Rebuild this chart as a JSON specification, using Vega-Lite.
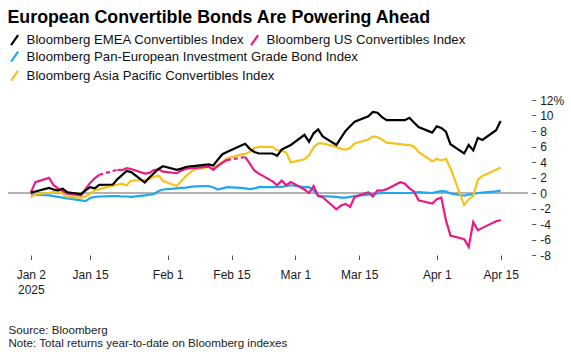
{
  "$schema": "https://vega.github.io/schema/vega-lite/v6.json",
  "autosize": {"type": "none"},
  "width": 520,
  "height": 155,
  "padding": {"left": 8, "top": 100, "right": 43, "bottom": 99},
  "background": "white",
  "title": {
    "text": "European Convertible Bonds Are Powering Ahead",
    "anchor": "start",
    "font": "Liberation Sans",
    "fontSize": 17.8,
    "fontWeight": "bold",
    "color": "#000000",
    "baseline": "alphabetic",
    "offset": 12,
    "dy": 19.5
  },
  "config": {
    "view": {"stroke": null},
    "axis": {"labelOverlap": false, "labelBound": false},
    "legend": {
      "orient": "none",
      "title": null,
      "padding": 0,
      "symbolType": "M-0.7,1L0.7,-1",
      "symbolSize": 100,
      "symbolStrokeWidth": 2.2,
      "symbolFillColor": "transparent",
      "labelFont": "Liberation Sans",
      "labelFontSize": 13.2,
      "labelColor": "#111111",
      "labelOffset": 5.4,
      "labelLimit": 500,
      "columnPadding": 1,
      "rowPadding": 0
    }
  },
  "datasets": {
    "emea": [
      {"date": "2025-01-02", "value": 0.05}, {"date": "2025-01-03", "value": 0.2}, {"date": "2025-01-06", "value": 0.65},
      {"date": "2025-01-07", "value": 0.45}, {"date": "2025-01-08", "value": 0.35}, {"date": "2025-01-09", "value": 0.55},
      {"date": "2025-01-10", "value": 0.1}, {"date": "2025-01-13", "value": -0.15}, {"date": "2025-01-14", "value": 0.35},
      {"date": "2025-01-15", "value": 0.75}, {"date": "2025-01-16", "value": 0.6}, {"date": "2025-01-17", "value": 1.05},
      {"date": "2025-01-20", "value": 1.1}, {"date": "2025-01-21", "value": 1.8}, {"date": "2025-01-22", "value": 2.3},
      {"date": "2025-01-23", "value": 2.85}, {"date": "2025-01-24", "value": 2.7}, {"date": "2025-01-27", "value": 1.35},
      {"date": "2025-01-28", "value": 2.0}, {"date": "2025-01-29", "value": 2.55}, {"date": "2025-01-30", "value": 3.1},
      {"date": "2025-01-31", "value": 3.45}, {"date": "2025-02-03", "value": 3.0}, {"date": "2025-02-04", "value": 3.15},
      {"date": "2025-02-05", "value": 3.35}, {"date": "2025-02-06", "value": 3.45}, {"date": "2025-02-07", "value": 3.5},
      {"date": "2025-02-10", "value": 3.7}, {"date": "2025-02-11", "value": 3.55}, {"date": "2025-02-12", "value": 4.3},
      {"date": "2025-02-13", "value": 5.0}, {"date": "2025-02-14", "value": 5.3}, {"date": "2025-02-17", "value": 6.1},
      {"date": "2025-02-18", "value": 6.35}, {"date": "2025-02-19", "value": 5.7}, {"date": "2025-02-20", "value": 5.3},
      {"date": "2025-02-21", "value": 5.1}, {"date": "2025-02-24", "value": 5.1}, {"date": "2025-02-25", "value": 4.8},
      {"date": "2025-02-26", "value": 5.6}, {"date": "2025-02-27", "value": 5.9}, {"date": "2025-02-28", "value": 6.2},
      {"date": "2025-03-03", "value": 7.5}, {"date": "2025-03-04", "value": 6.6}, {"date": "2025-03-05", "value": 7.7},
      {"date": "2025-03-06", "value": 8.2}, {"date": "2025-03-07", "value": 7.3}, {"date": "2025-03-10", "value": 6.2},
      {"date": "2025-03-11", "value": 7.1}, {"date": "2025-03-12", "value": 8.0}, {"date": "2025-03-13", "value": 8.6},
      {"date": "2025-03-14", "value": 9.2}, {"date": "2025-03-17", "value": 9.9}, {"date": "2025-03-18", "value": 10.45},
      {"date": "2025-03-19", "value": 10.35}, {"date": "2025-03-20", "value": 9.8}, {"date": "2025-03-21", "value": 9.4},
      {"date": "2025-03-24", "value": 9.4}, {"date": "2025-03-25", "value": 9.4}, {"date": "2025-03-26", "value": 9.7},
      {"date": "2025-03-27", "value": 9.1}, {"date": "2025-03-28", "value": 8.5}, {"date": "2025-03-31", "value": 7.8},
      {"date": "2025-04-01", "value": 8.6}, {"date": "2025-04-02", "value": 8.4}, {"date": "2025-04-03", "value": 7.9},
      {"date": "2025-04-04", "value": 6.3}, {"date": "2025-04-07", "value": 5.1}, {"date": "2025-04-08", "value": 6.2},
      {"date": "2025-04-09", "value": 5.5}, {"date": "2025-04-10", "value": 7.1}, {"date": "2025-04-11", "value": 6.85},
      {"date": "2025-04-14", "value": 8.1}, {"date": "2025-04-15", "value": 9.3}
    ],
    "us": [
      {"date": "2025-01-02", "value": 0.05}, {"date": "2025-01-03", "value": 1.4}, {"date": "2025-01-06", "value": 1.95},
      {"date": "2025-01-07", "value": 1.0}, {"date": "2025-01-08", "value": 0.6}, {"date": "2025-01-10", "value": -0.1},
      {"date": "2025-01-13", "value": -0.3}, {"date": "2025-01-14", "value": 0.5}, {"date": "2025-01-15", "value": 1.3},
      {"date": "2025-01-16", "value": 1.9}, {"date": "2025-01-17", "value": 2.35}, {"date": "2025-01-20", "value": null},
      {"date": "2025-01-21", "value": 3.0}, {"date": "2025-01-22", "value": 2.95}, {"date": "2025-01-23", "value": 3.2},
      {"date": "2025-01-24", "value": 3.1}, {"date": "2025-01-27", "value": 2.5}, {"date": "2025-01-28", "value": 2.6},
      {"date": "2025-01-29", "value": 2.95}, {"date": "2025-01-30", "value": 3.05}, {"date": "2025-01-31", "value": 2.75},
      {"date": "2025-02-03", "value": 2.55}, {"date": "2025-02-04", "value": 2.9}, {"date": "2025-02-05", "value": 3.1},
      {"date": "2025-02-06", "value": 3.2}, {"date": "2025-02-07", "value": 3.25}, {"date": "2025-02-10", "value": 3.4},
      {"date": "2025-02-11", "value": 3.0}, {"date": "2025-02-12", "value": 3.5}, {"date": "2025-02-13", "value": 3.9},
      {"date": "2025-02-14", "value": 4.25}, {"date": "2025-02-17", "value": null}, {"date": "2025-02-18", "value": 4.65},
      {"date": "2025-02-19", "value": 3.8}, {"date": "2025-02-20", "value": 2.9}, {"date": "2025-02-21", "value": 2.5},
      {"date": "2025-02-24", "value": 1.5}, {"date": "2025-02-25", "value": 1.0}, {"date": "2025-02-26", "value": 1.6},
      {"date": "2025-02-27", "value": 1.0}, {"date": "2025-02-28", "value": 1.4}, {"date": "2025-03-03", "value": 0.45},
      {"date": "2025-03-04", "value": 0.0}, {"date": "2025-03-05", "value": 0.9}, {"date": "2025-03-06", "value": -0.4},
      {"date": "2025-03-07", "value": -0.55}, {"date": "2025-03-10", "value": -2.1}, {"date": "2025-03-11", "value": -1.6},
      {"date": "2025-03-12", "value": -1.4}, {"date": "2025-03-13", "value": -1.8}, {"date": "2025-03-14", "value": -0.5},
      {"date": "2025-03-17", "value": 0.1}, {"date": "2025-03-18", "value": -0.45}, {"date": "2025-03-19", "value": 0.35},
      {"date": "2025-03-20", "value": 0.3}, {"date": "2025-03-21", "value": 0.5}, {"date": "2025-03-24", "value": 1.4},
      {"date": "2025-03-25", "value": 1.2}, {"date": "2025-03-26", "value": 0.6}, {"date": "2025-03-27", "value": 0.2},
      {"date": "2025-03-28", "value": -0.95}, {"date": "2025-03-31", "value": -1.35}, {"date": "2025-04-01", "value": -0.8},
      {"date": "2025-04-02", "value": -0.6}, {"date": "2025-04-03", "value": -3.5}, {"date": "2025-04-04", "value": -5.5},
      {"date": "2025-04-07", "value": -5.95}, {"date": "2025-04-08", "value": -6.95}, {"date": "2025-04-09", "value": -3.75},
      {"date": "2025-04-10", "value": -4.8}, {"date": "2025-04-11", "value": -4.5}, {"date": "2025-04-14", "value": -3.65},
      {"date": "2025-04-15", "value": -3.5}
    ],
    "usHolidayGaps": [
      {"date": "2025-01-17", "value": 2.35, "gap": "Martin Luther King Jr. Day"},
      {"date": "2025-01-21", "value": 3.0, "gap": "Martin Luther King Jr. Day"},
      {"date": "2025-02-14", "value": 4.25, "gap": "Presidents Day"},
      {"date": "2025-02-18", "value": 4.65, "gap": "Presidents Day"}
    ],
    "panEuro": [
      {"date": "2025-01-02", "value": -0.15}, {"date": "2025-01-03", "value": -0.2}, {"date": "2025-01-06", "value": -0.3},
      {"date": "2025-01-07", "value": -0.4}, {"date": "2025-01-08", "value": -0.5}, {"date": "2025-01-09", "value": -0.6},
      {"date": "2025-01-10", "value": -0.7}, {"date": "2025-01-13", "value": -0.95}, {"date": "2025-01-14", "value": -1.05},
      {"date": "2025-01-15", "value": -0.65}, {"date": "2025-01-16", "value": -0.5}, {"date": "2025-01-17", "value": -0.45},
      {"date": "2025-01-20", "value": -0.4}, {"date": "2025-01-21", "value": -0.4}, {"date": "2025-01-22", "value": -0.45},
      {"date": "2025-01-23", "value": -0.45}, {"date": "2025-01-24", "value": -0.5}, {"date": "2025-01-27", "value": -0.3},
      {"date": "2025-01-28", "value": -0.2}, {"date": "2025-01-29", "value": -0.15}, {"date": "2025-01-30", "value": 0.25},
      {"date": "2025-01-31", "value": 0.45}, {"date": "2025-02-03", "value": 0.6}, {"date": "2025-02-04", "value": 0.65},
      {"date": "2025-02-05", "value": 0.7}, {"date": "2025-02-06", "value": 0.8}, {"date": "2025-02-07", "value": 0.85},
      {"date": "2025-02-10", "value": 0.9}, {"date": "2025-02-11", "value": 0.7}, {"date": "2025-02-12", "value": 0.45},
      {"date": "2025-02-13", "value": 0.6}, {"date": "2025-02-14", "value": 0.75}, {"date": "2025-02-17", "value": 0.65},
      {"date": "2025-02-18", "value": 0.6}, {"date": "2025-02-19", "value": 0.5}, {"date": "2025-02-20", "value": 0.6},
      {"date": "2025-02-21", "value": 0.75}, {"date": "2025-02-24", "value": 0.75}, {"date": "2025-02-25", "value": 0.8},
      {"date": "2025-02-26", "value": 0.8}, {"date": "2025-02-27", "value": 0.9}, {"date": "2025-02-28", "value": 1.0},
      {"date": "2025-03-03", "value": 0.75}, {"date": "2025-03-04", "value": 0.75}, {"date": "2025-03-05", "value": 0.3},
      {"date": "2025-03-06", "value": -0.35}, {"date": "2025-03-07", "value": -0.4}, {"date": "2025-03-10", "value": -0.5},
      {"date": "2025-03-11", "value": -0.6}, {"date": "2025-03-12", "value": -0.6}, {"date": "2025-03-13", "value": -0.5},
      {"date": "2025-03-14", "value": -0.4}, {"date": "2025-03-17", "value": -0.2}, {"date": "2025-03-18", "value": -0.1},
      {"date": "2025-03-19", "value": -0.05}, {"date": "2025-03-20", "value": 0.0}, {"date": "2025-03-21", "value": 0.0},
      {"date": "2025-03-24", "value": 0.0}, {"date": "2025-03-25", "value": 0.0}, {"date": "2025-03-26", "value": 0.0},
      {"date": "2025-03-27", "value": 0.05}, {"date": "2025-03-28", "value": 0.1}, {"date": "2025-03-31", "value": 0.0},
      {"date": "2025-04-01", "value": 0.15}, {"date": "2025-04-02", "value": 0.25}, {"date": "2025-04-03", "value": 0.2},
      {"date": "2025-04-04", "value": -0.05}, {"date": "2025-04-07", "value": -0.35}, {"date": "2025-04-08", "value": -0.2},
      {"date": "2025-04-09", "value": -0.15}, {"date": "2025-04-10", "value": 0.0}, {"date": "2025-04-11", "value": 0.05},
      {"date": "2025-04-14", "value": 0.2}, {"date": "2025-04-15", "value": 0.3}
    ],
    "asiaPac": [
      {"date": "2025-01-02", "value": -0.55}, {"date": "2025-01-03", "value": -0.15}, {"date": "2025-01-06", "value": 0.0},
      {"date": "2025-01-07", "value": 0.15}, {"date": "2025-01-08", "value": 0.2}, {"date": "2025-01-09", "value": -0.1},
      {"date": "2025-01-10", "value": -0.5}, {"date": "2025-01-13", "value": -0.6}, {"date": "2025-01-14", "value": -0.45},
      {"date": "2025-01-15", "value": -0.1}, {"date": "2025-01-16", "value": 0.35}, {"date": "2025-01-17", "value": 0.5},
      {"date": "2025-01-20", "value": 0.95}, {"date": "2025-01-21", "value": 1.1}, {"date": "2025-01-22", "value": 1.2},
      {"date": "2025-01-23", "value": 1.0}, {"date": "2025-01-24", "value": 1.6}, {"date": "2025-01-27", "value": 1.65},
      {"date": "2025-01-28", "value": 1.85}, {"date": "2025-01-29", "value": 2.1}, {"date": "2025-01-30", "value": 2.25},
      {"date": "2025-01-31", "value": 1.55}, {"date": "2025-02-03", "value": 0.9}, {"date": "2025-02-04", "value": 1.55},
      {"date": "2025-02-05", "value": 2.2}, {"date": "2025-02-06", "value": 2.7}, {"date": "2025-02-07", "value": 3.05},
      {"date": "2025-02-10", "value": 3.35}, {"date": "2025-02-11", "value": 3.2}, {"date": "2025-02-12", "value": 3.6},
      {"date": "2025-02-13", "value": 4.0}, {"date": "2025-02-14", "value": 4.45}, {"date": "2025-02-17", "value": 4.95},
      {"date": "2025-02-18", "value": 5.05}, {"date": "2025-02-19", "value": 5.3}, {"date": "2025-02-20", "value": 5.8},
      {"date": "2025-02-21", "value": 5.95}, {"date": "2025-02-24", "value": 5.95}, {"date": "2025-02-25", "value": 5.5},
      {"date": "2025-02-26", "value": 5.5}, {"date": "2025-02-27", "value": 5.2}, {"date": "2025-02-28", "value": 3.95},
      {"date": "2025-03-03", "value": 4.35}, {"date": "2025-03-04", "value": 4.9}, {"date": "2025-03-05", "value": 5.9},
      {"date": "2025-03-06", "value": 6.4}, {"date": "2025-03-07", "value": 6.4}, {"date": "2025-03-10", "value": 5.95},
      {"date": "2025-03-11", "value": 5.7}, {"date": "2025-03-12", "value": 5.6}, {"date": "2025-03-13", "value": 5.8},
      {"date": "2025-03-14", "value": 6.4}, {"date": "2025-03-17", "value": 6.9}, {"date": "2025-03-18", "value": 7.3},
      {"date": "2025-03-19", "value": 7.2}, {"date": "2025-03-20", "value": 6.9}, {"date": "2025-03-21", "value": 6.5},
      {"date": "2025-03-24", "value": 6.3}, {"date": "2025-03-25", "value": 6.2}, {"date": "2025-03-26", "value": 6.2},
      {"date": "2025-03-27", "value": 6.0}, {"date": "2025-03-28", "value": 5.3}, {"date": "2025-03-31", "value": 4.1},
      {"date": "2025-04-01", "value": 4.4}, {"date": "2025-04-02", "value": 4.2}, {"date": "2025-04-03", "value": 4.4},
      {"date": "2025-04-04", "value": 3.2}, {"date": "2025-04-07", "value": -1.55}, {"date": "2025-04-08", "value": -0.8},
      {"date": "2025-04-09", "value": -0.4}, {"date": "2025-04-10", "value": 1.7}, {"date": "2025-04-11", "value": 2.2},
      {"date": "2025-04-14", "value": 3.0}, {"date": "2025-04-15", "value": 3.3}
    ]
  },
  "layer": [
    {
      "data": {"values": [{}]},
      "mark": {"type": "rule", "color": "#666666", "strokeWidth": 1},
      "encoding": {
        "y": {
          "datum": 0,
          "type": "quantitative",
          "scale": {"domain": [-8, 12], "nice": false, "zero": false},
          "axis": {
            "orient": "right",
            "values": [-8, -6, -4, -2, 0, 2, 4, 6, 8, 10, 12],
            "tickCount": 20,
            "labelExpr": "datum.value == 12 ? '12%' : (datum.value < 0 ? '-' + abs(datum.value) : '' + datum.value)",
            "labelOverlap": false,
            "domain": false,
            "grid": false,
            "offset": 3.7,
            "tickSize": 4,
            "tickColor": "#555555",
            "labelPadding": 4,
            "labelFont": "Liberation Sans",
            "labelFontSize": 12,
            "labelColor": "#1a1a1a",
            "title": null
          }
        }
      }
    },
    {
      "layer": [
        {
          "data": {"name": "panEuro"},
          "mark": {"type": "line", "strokeWidth": 2.2},
          "encoding": {
            "x": {
              "field": "date",
              "type": "temporal",
              "scale": {
                "type": "utc",
                "domain": [
                  {"year": 2024, "month": 12, "date": 28, "utc": true},
                  {"year": 2025, "month": 4, "date": 21, "utc": true}
                ]
              },
              "axis": {
                "orient": "bottom",
                "values": [
                  {"year": 2025, "month": 1, "date": 2, "utc": true},
                  {"year": 2025, "month": 1, "date": 15, "utc": true},
                  {"year": 2025, "month": 2, "date": 1, "utc": true},
                  {"year": 2025, "month": 2, "date": 15, "utc": true},
                  {"year": 2025, "month": 3, "date": 1, "utc": true},
                  {"year": 2025, "month": 3, "date": 15, "utc": true},
                  {"year": 2025, "month": 4, "date": 1, "utc": true},
                  {"year": 2025, "month": 4, "date": 15, "utc": true}
                ],
                "tickCount": 20,
                "labelExpr": "utcFormat(datum.value, '%b %-d') == 'Jan 2' ? ['Jan 2', '2025'] : utcFormat(datum.value, '%b %-d')",
                "domain": false,
                "grid": false,
                "ticks": true,
                "tickSize": 4.5,
                "tickColor": "#555555",
                "tickWidth": 1,
                "labelPadding": 10,
                "labelFont": "Liberation Sans",
                "labelFontSize": 12,
                "labelColor": "#1a1a1a",
                "labelLineHeight": 14.5,
                "labelFlush": false,
                "labelOverlap": false,
                "title": ["Source: Bloomberg", "Note: Total returns year-to-date on Bloomberg indexes"],
                "titleAnchor": "start",
                "titleAlign": "left",
                "titleBaseline": "alphabetic",
                "titleX": 0,
                "titleY": 78,
                "titleFont": "Liberation Sans",
                "titleFontSize": 11.6,
                "titleFontWeight": "normal",
                "titleColor": "#222222",
                "titleLineHeight": 13.5
              }
            },
            "y": {"field": "value", "type": "quantitative"},
            "color": {
              "datum": "Bloomberg Pan-European Investment Grade Bond Index",
              "type": "nominal",
              "scale": {
                "domain": ["Bloomberg Pan-European Investment Grade Bond Index", "Bloomberg Asia Pacific Convertibles Index"],
                "range": ["#1fa8ee", "#f6c21c"]
              },
              "legend": {"direction": "vertical", "legendX": 0, "legendY": -50}
            }
          }
        },
        {
          "data": {"name": "asiaPac"},
          "mark": {"type": "line", "strokeWidth": 2.2},
          "encoding": {
            "x": {"field": "date", "type": "temporal"},
            "y": {"field": "value", "type": "quantitative"},
            "color": {"datum": "Bloomberg Asia Pacific Convertibles Index", "type": "nominal"}
          }
        }
      ]
    },
    {
      "layer": [
        {
          "data": {"name": "usHolidayGaps"},
          "mark": {"type": "line", "strokeWidth": 2.2, "stroke": "#ea1a84", "strokeDash": [4, 3]},
          "encoding": {
            "x": {"field": "date", "type": "temporal"},
            "y": {"field": "value", "type": "quantitative"},
            "detail": {"field": "gap", "type": "nominal"}
          }
        },
        {
          "data": {"name": "us"},
          "mark": {"type": "line", "strokeWidth": 2.2, "invalid": "break-paths-show-domains"},
          "encoding": {
            "x": {"field": "date", "type": "temporal"},
            "y": {"field": "value", "type": "quantitative"},
            "color": {
              "datum": "Bloomberg US Convertibles Index",
              "type": "nominal",
              "scale": {
                "domain": ["Bloomberg EMEA Convertibles Index", "Bloomberg US Convertibles Index"],
                "range": ["#000000", "#ea1a84"]
              },
              "legend": {"direction": "horizontal", "legendX": 0, "legendY": -66.5}
            }
          }
        },
        {
          "data": {"name": "emea"},
          "mark": {"type": "line", "strokeWidth": 2.2},
          "encoding": {
            "x": {"field": "date", "type": "temporal"},
            "y": {"field": "value", "type": "quantitative"},
            "color": {"datum": "Bloomberg EMEA Convertibles Index", "type": "nominal"}
          }
        }
      ]
    }
  ],
  "resolve": {"scale": {"color": "independent"}}
}
